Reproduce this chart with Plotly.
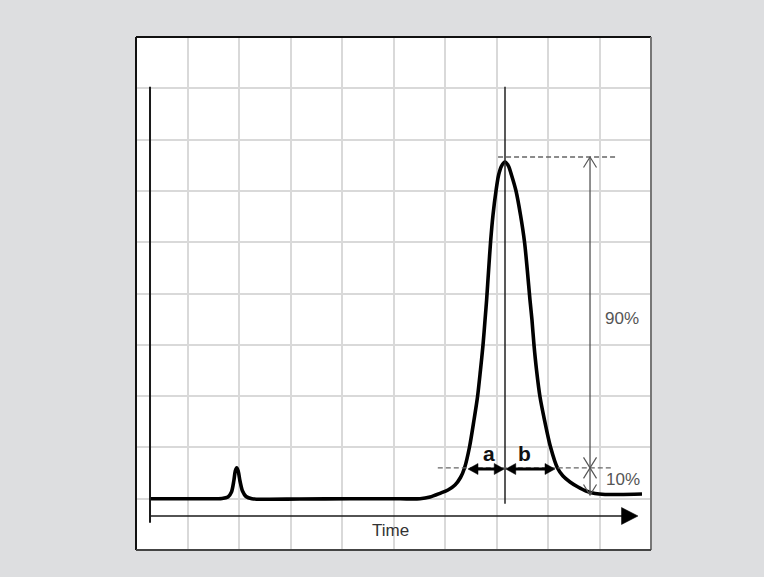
import plotly.graph_objects as go

# ---- data (grid units: x = time, y = detector signal) ----
time_pts = [0.272, 1.243, 1.670, 1.786, 1.854, 1.899, 1.928, 1.955, 1.984, 2.019, 2.068, 2.136, 2.252,
            3.184, 4.155, 5.126, 5.515, 5.709, 5.903, 6.058, 6.194, 6.301, 6.379, 6.476, 6.563,
            6.631, 6.689, 6.738, 6.777, 6.808, 6.847, 6.885, 6.932, 6.990, 7.041, 7.097, 7.165,
            7.233, 7.291, 7.379, 7.466, 7.544, 7.598, 7.650, 7.689, 7.728, 7.777, 7.845, 7.932,
            8.049, 8.184, 8.291, 8.427, 8.583, 8.738, 8.913, 9.107, 9.398, 9.825]
signal_pts = [1.000, 1.000, 1.004, 1.033, 1.131, 1.345, 1.540, 1.602, 1.540, 1.345, 1.150, 1.043, 1.000,
              0.994, 1.000, 0.998, 1.000, 1.033, 1.105, 1.170, 1.267, 1.413, 1.598, 2.008, 2.534,
              2.982, 3.509, 3.996, 4.483, 4.873, 5.458, 6.004, 6.530, 6.998, 7.310, 7.485, 7.563,
              7.485, 7.310, 6.998, 6.530, 6.004, 5.458, 4.873, 4.483, 3.996, 3.509, 2.982, 2.534,
              2.008, 1.598, 1.442, 1.326, 1.228, 1.150, 1.101, 1.082, 1.082, 1.092]

axis_x = 0.272
axis_y_span = [0.53, 9.03]
time_axis_y = 0.663
time_axis_span = [0.272, 9.748]
apex_time = 7.165
apex_line_span = [0.90, 9.03]
level_100 = 7.66
level_100_span = [7.03, 9.36]
level_10 = 1.60
level_10_span = [5.86, 9.26]
baseline_end = 1.072
pct_arrow_x = 8.816
a_span = [6.447, 7.150]
b_span = [7.179, 8.136]
ab_y = 1.579

labels = {"a": (6.86, 1.88), "b": (7.553, 1.88)}
pct_labels = {"90%": (9.431, 4.513), "10%": (9.462, 1.365)}
time_label = ("Time", 4.951, 0.380)

# ---- scale helpers (pixels per unit) ----
PX = 51.5
PY = 51.3

shapes = []


def line(x0, y0, x1, y1, color, width, dash=None):
    d = dict(type="line", xref="x", yref="y", x0=x0, y0=y0, x1=x1, y1=y1,
             line=dict(color=color, width=width))
    if dash:
        d["line"]["dash"] = dash
    shapes.append(d)


def filled_head(tx, ty, direction, length_px=10, half_px=5.5, color="#000"):
    bx = tx - direction * length_px / PX
    hw = half_px / PY
    shapes.append(dict(type="path", xref="x", yref="y",
                       path=f"M {tx},{ty} L {bx},{ty + hw} L {bx},{ty - hw} Z",
                       fillcolor=color, line=dict(color=color, width=0.5)))


def open_head(tx, ty, direction, color="#555", dx_px=6.5, dy_px=10.5):
    by = ty - direction * dy_px / PY
    dx = dx_px / PX
    shapes.append(dict(type="path", xref="x", yref="y",
                       path=f"M {tx - dx},{by} L {tx},{ty} L {tx + dx},{by}",
                       line=dict(color=color, width=1.2)))


# axes drawn by hand
line(axis_x, axis_y_span[0], axis_x, axis_y_span[1], "#1a1a1a", 2)
line(time_axis_span[0], time_axis_y, time_axis_span[1] - 14 / PX, time_axis_y, "#1a1a1a", 1.6)
shapes.append(dict(type="path", xref="x", yref="y",
                   path=(f"M {time_axis_span[1]},{time_axis_y} "
                         f"L {time_axis_span[1] - 16.5 / PX},{time_axis_y + 8.5 / PY} "
                         f"L {time_axis_span[1] - 16.5 / PX},{time_axis_y - 8.5 / PY} Z"),
                   fillcolor="#000", line=dict(color="#000", width=0.5)))

# apex line
line(apex_time, apex_line_span[0], apex_time, apex_line_span[1], "#222", 1.5)

# dashed reference levels
line(level_100_span[0], level_100, level_100_span[1], level_100, "#666", 1.4, "5px,3px")
line(level_10_span[0], level_10, level_10_span[1], level_10, "#666", 1.3, "5px,3px")

# 90% and 10% arrows
line(pct_arrow_x, level_100, pct_arrow_x, level_10, "#555", 1.3)
open_head(pct_arrow_x, level_100, +1)
open_head(pct_arrow_x, level_10, -1)
line(pct_arrow_x, level_10, pct_arrow_x, baseline_end, "#555", 1.3)
open_head(pct_arrow_x, level_10, +1)
open_head(pct_arrow_x, baseline_end, -1)

# a / b double arrows
for x0, x1 in (a_span, b_span):
    line(x0 + 6 / PX, ab_y, x1 - 6 / PX, ab_y, "#000", 3)
    filled_head(x0, ab_y, -1)
    filled_head(x1, ab_y, +1)

# panel border (paper coords)
shapes.append(dict(type="line", xref="paper", yref="paper", x0=0, y0=0, x1=0, y1=1,
                   line=dict(color="#111", width=2)))
shapes.append(dict(type="line", xref="paper", yref="paper", x0=0, y0=1, x1=1, y1=1,
                   line=dict(color="#111", width=2)))
shapes.append(dict(type="line", xref="paper", yref="paper", x0=1, y0=0, x1=1, y1=1,
                   line=dict(color="#777", width=2)))
shapes.append(dict(type="line", xref="paper", yref="paper", x0=0, y0=0, x1=1, y1=0,
                   line=dict(color="#444", width=2)))

annotations = []
for txt, (x, y) in labels.items():
    annotations.append(dict(x=x, y=y, xref="x", yref="y", text=f"<b>{txt}</b>", showarrow=False,
                            font=dict(family="Liberation Sans, Arial, sans-serif", size=21, color="#111")))
for txt, (x, y) in pct_labels.items():
    annotations.append(dict(x=x, y=y, xref="x", yref="y", text=txt, showarrow=False,
                            font=dict(family="Liberation Sans, Arial, sans-serif", size=17, color="#555")))
annotations.append(dict(x=time_label[1], y=time_label[2], xref="x", yref="y", text=time_label[0],
                        showarrow=False,
                        font=dict(family="Liberation Sans, Arial, sans-serif", size=17, color="#333")))

fig = go.Figure()
fig.add_trace(go.Scatter(x=time_pts, y=signal_pts, mode="lines",
                         line=dict(color="#000", width=3.6, shape="spline", smoothing=0.8),
                         hoverinfo="skip", showlegend=False))

fig.update_layout(
    width=764, height=577,
    margin=dict(l=136, r=113, t=37, b=27),
    paper_bgcolor="#dddee0",
    plot_bgcolor="#ffffff",
    shapes=shapes,
    annotations=annotations,
    showlegend=False,
)
fig.update_xaxes(range=[0, 10], dtick=1, showgrid=True, gridcolor="#d9d9d9", gridwidth=1.5,
                 showticklabels=False, zeroline=False, showline=False, ticks="", fixedrange=True)
fig.update_yaxes(range=[0, 10], dtick=1, showgrid=True, gridcolor="#d9d9d9", gridwidth=1.5,
                 showticklabels=False, zeroline=False, showline=False, ticks="", fixedrange=True)

fig.write_html("out.html", config={"displayModeBar": False},
               post_script="document.body.style.margin='0';document.body.style.overflow='hidden';")
